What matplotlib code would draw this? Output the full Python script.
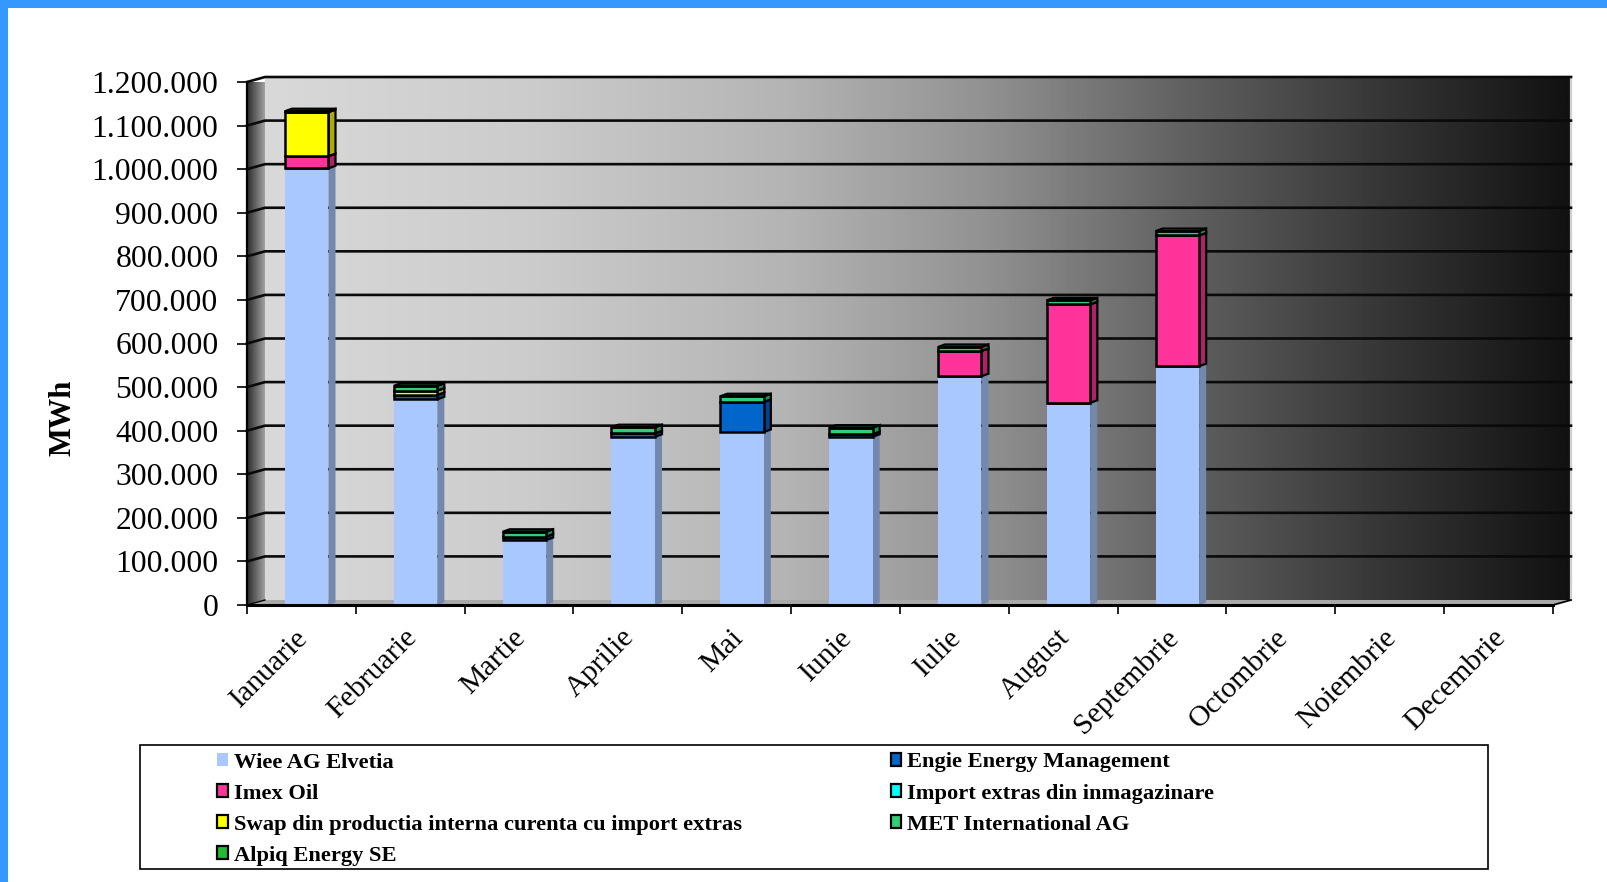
import numpy as np
import matplotlib
matplotlib.use("Agg")
import matplotlib.pyplot as plt
from matplotlib.colors import LinearSegmentedColormap, to_rgb
from matplotlib.patches import Patch, Polygon, Rectangle
from matplotlib.ticker import FuncFormatter

plt.rcParams['font.family'] = ['Liberation Serif', 'DejaVu Serif']

months = ["Ianuarie", "Februarie", "Martie", "Aprilie", "Mai", "Iunie", "Iulie",
          "August", "Septembrie", "Octombrie", "Noiembrie", "Decembrie"]

# MWh per month
wiee = [1002000, 472000, 149000, 386000, 397000, 386000, 525000, 464000, 548000, 0, 0, 0]
engie = [0, 10000, 8000, 8000, 69000, 6000, 0, 0, 0, 0, 0, 0]
imex = [28000, 0, 0, 0, 0, 0, 58000, 226000, 300000, 0, 0, 0]
import_extras = [0, 0, 0, 0, 0, 0, 0, 0, 0, 0, 0, 0]
swap = [101000, 10000, 0, 0, 0, 0, 0, 0, 0, 0, 0, 0]
met = [0, 11000, 11000, 14000, 13000, 15000, 9000, 9000, 10000, 0, 0, 0]
alpiq = [2000, 0, 0, 0, 0, 0, 0, 0, 0, 0, 0, 0]

series_names = ["Wiee AG Elvetia", "Engie Energy Management", "Imex Oil",
                "Import extras din inmagazinare",
                "Swap din productia interna curenta cu import extras",
                "MET International AG", "Alpiq Energy SE"]
series_values = [wiee, engie, imex, import_extras, swap, met, alpiq]
series_colors = ["#a9c8ff", "#0066cc", "#ff3399", "#00ffff", "#ffff00", "#33cc77", "#22bb33"]

W, H = 1608, 882
# plot frame in pixels
px_left, px_right, px_top, px_bottom = 247, 1553, 82, 605

fig = plt.figure(figsize=(W / 100, H / 100), dpi=100, facecolor="white")
ax = fig.add_axes([px_left / W, 1 - px_bottom / H, (px_right - px_left) / W, (px_bottom - px_top) / H])
ax.set_xlim(0, 12)
ax.set_ylim(0, 1200000)

# pixel -> data steps, for the fake 3D look
unit_x = 12 / (px_right - px_left)
unit_y = 1200000 / (px_bottom - px_top)
wall_dx, wall_dy = 18 * unit_x, 5 * unit_y
bar_dx, bar_dy = 7 * unit_x, 2.5 * unit_y
bar_w = 43.5 * unit_x
bar_off = 38 * unit_x

# page border
fig.add_artist(Rectangle((0, 1 - 8 / H), 1, 8 / H, transform=fig.transFigure, color="#3399ff", lw=0))
fig.add_artist(Rectangle((0, 0), 8 / W, 1, transform=fig.transFigure, color="#3399ff", lw=0))

# back wall
wall_cmap = LinearSegmentedColormap.from_list("wall", [
    (0.0, "#d9d9d9"), (0.2, "#cccccc"), (0.4, "#b4b4b4"), (0.55, "#929292"),
    (0.7, "#626262"), (0.85, "#383838"), (1.0, "#111111")])
ramp = np.linspace(0, 1, 512).reshape(1, -1)
ax.imshow(ramp, cmap=wall_cmap, aspect="auto", zorder=0, clip_on=False,
          extent=[wall_dx, 12 + wall_dx, wall_dy, 1200000 + wall_dy])

# left wall
side_cmap = LinearSegmentedColormap.from_list("side", ["#2a2a2a", "#a8a8a8"])
side = ax.imshow(ramp, cmap=side_cmap, aspect="auto", zorder=0, clip_on=True,
                 extent=[0, wall_dx, 0, 1200000 + wall_dy])
side.set_clip_path(Polygon([(0, 0), (wall_dx, wall_dy), (wall_dx, 1200000 + wall_dy), (0, 1200000)],
                           transform=ax.transData))
ax.set_xlim(0, 12)
ax.set_ylim(0, 1200000)

# floor and right edge
ax.add_patch(Polygon([(0, 0), (wall_dx, wall_dy), (12 + wall_dx, wall_dy), (12, 0)],
                     facecolor="#a9a9a9", edgecolor="none", zorder=1, clip_on=False))
ax.plot([12 + wall_dx, 12 + wall_dx], [wall_dy, 1200000 + wall_dy], color="#cfcfcf", lw=1.6,
        zorder=1, clip_on=False)

# gridlines run over both walls
yticks = np.arange(0, 1300000, 100000)
for t in yticks[1:]:
    ax.plot([0, wall_dx, 12 + wall_dx], [t, t + wall_dy, t + wall_dy], color="#0a0a0a", lw=1.9,
            zorder=2, clip_on=False, solid_joinstyle="miter")
ax.plot([12, 12 + wall_dx], [0, wall_dy], color="black", lw=1.3, zorder=2, clip_on=False)
ax.plot([0, wall_dx], [0, wall_dy], color="black", lw=1.0, zorder=2, clip_on=False)


def darker(color, k=0.68):
    return tuple(c * k for c in to_rgb(color))


# bars, bottom segment first
x_left = np.arange(12) + bar_off
bottom = np.zeros(12)
for name, vals, color in zip(series_names, series_values, series_colors):
    vals = np.array(vals, dtype=float)
    outlined = name != "Wiee AG Elvetia"
    edge = "black" if outlined else "none"
    for i in np.nonzero(vals)[0]:
        x0, x1 = x_left[i], x_left[i] + bar_w
        b, t = bottom[i], bottom[i] + vals[i]
        ax.add_patch(Polygon([(x1, b), (x1 + bar_dx, b + bar_dy), (x1 + bar_dx, t + bar_dy), (x1, t)],
                             facecolor=darker(color), edgecolor=edge, lw=1.6, zorder=3, clip_on=False))
        ax.add_patch(Polygon([(x0, t), (x0 + bar_dx, t + bar_dy), (x1 + bar_dx, t + bar_dy), (x1, t)],
                             facecolor=darker(color), edgecolor=edge, lw=1.6, zorder=3, clip_on=False))
    ax.bar(x_left, vals, width=bar_w, bottom=bottom, align="edge", color=color,
           edgecolor=edge, linewidth=1.8 if outlined else 0, zorder=4)
    bottom += vals

# axes
for s in ["top", "right"]:
    ax.spines[s].set_visible(False)
ax.spines["left"].set_linewidth(1.6)
ax.spines["bottom"].set_linewidth(2.2)
ax.spines["left"].set_zorder(5)
ax.spines["bottom"].set_zorder(5)
ax.set_yticks(yticks)
ax.yaxis.set_major_formatter(FuncFormatter(lambda v, p: f"{int(v):,}".replace(",", ".")))
ax.tick_params(axis="y", length=7.5, width=1.2, labelsize=22.8, pad=13)
ax.set_xticks(np.arange(13))
ax.set_xticklabels([])
ax.tick_params(axis="x", length=6.5, width=1.2)
ax.set_xticks(np.arange(12) + 0.44, minor=True)
ax.set_xticklabels(months, minor=True, rotation=45, ha="right", rotation_mode="anchor", fontsize=21.5)
ax.tick_params(axis="x", which="minor", length=0, pad=14)
ax.set_ylabel("MWh", fontsize=22, fontweight="bold")
ax.yaxis.set_label_coords(-0.130, 0.357)

# legend, filled row by row like the original
fig.add_artist(Rectangle((140 / W, 1 - 868.5 / H), 1348 / W, 124 / H, transform=fig.transFigure,
                         facecolor="white", edgecolor="black", lw=1.2))
handles = []
for name, color in zip(series_names, series_colors):
    if name == "Wiee AG Elvetia":
        handles.append(Patch(facecolor=color, edgecolor="none", label=name))
    else:
        handles.append(Patch(facecolor=color, edgecolor="black", lw=1.6, label=name))
legend_order = [0, 2, 4, 6, 1, 3, 5]
fig.legend(handles=[handles[i] for i in legend_order], ncols=2, frameon=False, loc="upper left",
           bbox_to_anchor=(217.5 / W, 1 - 752.5 / H), borderaxespad=0, borderpad=0,
           prop={"size": 16.2, "weight": "bold"}, handlelength=0.47, handleheight=0.47,
           handletextpad=0.27, labelspacing=0.49, columnspacing=6.6)

fig.savefig("out.png", dpi=100)
